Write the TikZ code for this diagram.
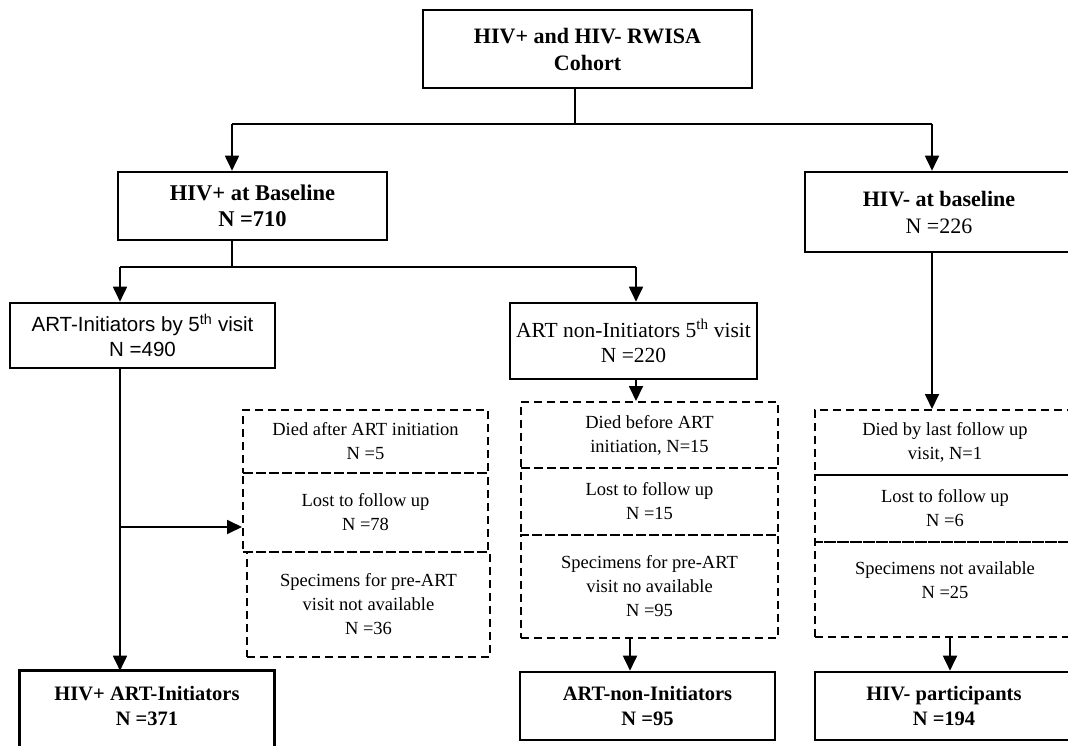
\documentclass[tikz,border=0pt]{standalone}
\usepackage{fontspec}
\setmainfont{Liberation Serif}
\newfontfamily\arialfont{Liberation Sans}
\usetikzlibrary{arrows.meta}

\begin{document}
\begin{tikzpicture}[x=1pt, y=-1pt, >={Triangle[length=15pt,width=14pt]},
  box/.style={draw, line width=2.6pt, align=center, inner sep=0pt},
  dbox/.style={draw, dash pattern=on 8pt off 5pt, line width=2pt, align=center, inner sep=0pt,
    font=\fontsize{18.5}{24}\selectfont},
  link/.style={line width=1.8pt}]
  \useasboundingbox (0,0) rectangle (1068,746);
  % cohort and baseline
  \node[box, minimum width=329pt, minimum height=78pt, font=\bfseries\fontsize{22}{27}\selectfont]
    (cohort) at (587.5,49) {HIV+ and HIV- RWISA\\Cohort};
  \node[box, minimum width=269pt, minimum height=68pt, font=\bfseries\fontsize{22.5}{26}\selectfont]
    (hivpos) at (252.5,206) {HIV+ at Baseline\\N =710};
  \node[box, minimum width=268pt, minimum height=80pt, font=\fontsize{22}{27}\selectfont]
    (hivneg) at (939,212) {\textbf{HIV- at baseline}\\N =226};
  % ART groups
  \node[box, minimum width=265pt, minimum height=65pt, font=\arialfont\fontsize{20.5}{25}\selectfont]
    (artinit) at (142.5,335.5) {ART-Initiators by 5\textsuperscript{th} visit\\N =490};
  \node[box, minimum width=247pt, minimum height=76pt, font=\fontsize{21.5}{25}\selectfont]
    (artnon) at (633.5,341) {ART non-Initiators 5\textsuperscript{th} visit\\N =220};
  % exclusions, initiators
  \node[dbox, minimum width=245pt, minimum height=63pt] (initdied) at (365.5,441.5)
    {Died after ART initiation\\N =5};
  \node[dbox, minimum width=245pt, minimum height=79pt] (initlost) at (365.5,512.5)
    {Lost to follow up\\N =78};
  \node[dbox, minimum width=243pt, minimum height=105pt] (initspec) at (368.5,604.5)
    {Specimens for pre-ART\\visit not available\\N =36};
  % exclusions, non-initiators
  \node[dbox, minimum width=257pt, minimum height=66pt] (nondied) at (649.5,435)
    {Died before ART\\initiation, N=15};
  \node[dbox, minimum width=257pt, minimum height=67pt] (nonlost) at (649.5,501.5)
    {Lost to follow up\\N =15};
  \node[dbox, minimum width=257pt, minimum height=103pt] (nonspec) at (649.5,586.5)
    {Specimens for pre-ART\\visit no available\\N =95};
  % exclusions, HIV-
  \node[dbox, minimum width=260pt, minimum height=65pt] (negdied) at (945,442.5)
    {Died by last follow up\\visit, N=1};
  \node[dbox, minimum width=260pt, minimum height=67pt] (neglost) at (945,508.5)
    {Lost to follow up\\N =6};
  \node[dbox, minimum width=260pt, minimum height=95pt, text depth=18pt] (negspec) at (945,589.5)
    {Specimens not available\\N =25};
  % final groups
  \node[box, draw=none, minimum width=252pt, minimum height=68pt, font=\bfseries\fontsize{20.5}{25}\selectfont]
    (initfinal) at (147,706) {HIV+ ART-Initiators\\N =371};
  \draw[line width=2.6pt] (initfinal.north west) rectangle ([yshift=-30pt]initfinal.south east);
  \node[box, minimum width=255pt, minimum height=68pt, font=\bfseries\fontsize{20.5}{25}\selectfont]
    (nonfinal) at (647.5,706) {ART-non-Initiators\\N =95};
  \node[box, minimum width=258pt, minimum height=68pt, font=\bfseries\fontsize{20.5}{25}\selectfont]
    (negfinal) at (944,706) {HIV- participants\\N =194};
  % connectors
  \coordinate (split) at (575,124);
  \coordinate (forkL) at (232,124);
  \coordinate (forkR) at (932,124);
  \coordinate (posL) at (120,267);
  \coordinate (posM) at (232,267);
  \coordinate (posR) at (636,267);
  \coordinate (lossbr) at (120,527);
  \coordinate (nonx) at (630,0);
  \coordinate (negx) at (950,0);
  \draw[link] (cohort.south -| split) -- (split);
  \draw[link] (forkL) -- (forkR);
  \draw[link,->] (forkL) -- (hivpos.north -| forkL);
  \draw[link,->] (forkR) -- (hivneg.north -| forkR);
  \draw[link] (hivpos.south -| posM) -- (posM);
  \draw[link] (posL) -- (posR);
  \draw[link,->] (posL) -- (artinit.north -| posL);
  \draw[link,->] (posR) -- (artnon.north -| posR);
  \draw[link,->] (artinit.south -| posL) -- (initfinal.north -| posL);
  \draw[link,->] (lossbr) -- (initlost.west |- lossbr);
  \draw[link,->] (artnon.south -| posR) -- (nondied.north -| posR);
  \draw[link,->] (nonspec.south -| nonx) -- (nonfinal.north -| nonx);
  \draw[link,->] (hivneg.south -| forkR) -- (negdied.north -| forkR);
  \draw[link,->] (negspec.south -| negx) -- (negfinal.north -| negx);
\end{tikzpicture}
\end{document}
